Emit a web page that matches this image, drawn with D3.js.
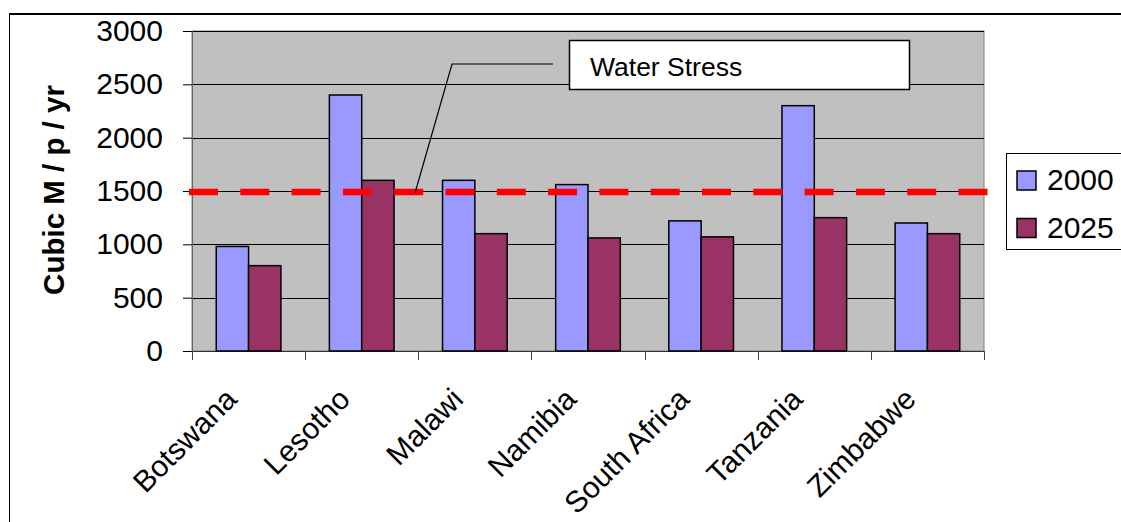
<!DOCTYPE html>
<html><head><meta charset="utf-8">
<script src="https://cdn.jsdelivr.net/npm/d3@7"></script>
<style>html,body{margin:0;padding:0;background:#fff;}svg{display:block;font-family:"Liberation Sans",Arial,sans-serif;}</style>
</head><body>
<script>
const categories = ["Botswana","Lesotho","Malawi","Namibia","South Africa","Tanzania","Zimbabwe"];
const seriesNames = ["2000","2025"];
const values2000 = [980, 2400, 1600, 1560, 1220, 2300, 1200];
const values2025 = [800, 1600, 1100, 1060, 1070, 1250, 1100];
const yTicks = [0,500,1000,1500,2000,2500,3000];
const stressValue = 1500;
const stressLabel = "Water Stress";
const yTitle = "Cubic M / p / yr";
const colors = ["#9999FF","#993366"];

const W = 1121, H = 522;
const svg = d3.select("body").append("svg").attr("width",W).attr("height",H);

// outer frame
svg.append("line").attr("x1",9).attr("x2",W).attr("y1",14).attr("y2",14).attr("stroke","#000").attr("stroke-width",2);
svg.append("line").attr("x1",9.5).attr("x2",9.5).attr("y1",13).attr("y2",H).attr("stroke","#000").attr("stroke-width",1);

const plot = {l:192, r:984, t:31, b:351};
const x0 = d3.scaleBand().domain(categories).range([plot.l, plot.r]).padding(0);
const x1 = d3.scaleBand().domain(seriesNames).range([0, x0.bandwidth()]).paddingInner(0).paddingOuter(0.75);
const y = d3.scaleLinear().domain([0,3000]).range([plot.b, plot.t]);

svg.append("rect").attr("x",plot.l).attr("y",plot.t).attr("width",plot.r-plot.l).attr("height",plot.b-plot.t)
  .attr("fill","#C0C0C0").attr("stroke","#808080").attr("stroke-width",1);

// gridlines
svg.append("g").selectAll("line").data(yTicks.filter(d=>d>0)).join("line")
  .attr("x1",plot.l).attr("x2",plot.r).attr("y1",d=>Math.round(y(d))+0.5).attr("y2",d=>Math.round(y(d))+0.5)
  .attr("stroke","#000").attr("stroke-width",1);

// y axis
const yAxis = d3.axisLeft(y).tickValues(yTicks).tickFormat(d3.format("d")).tickSize(9).tickPadding(20);
const gy = svg.append("g").attr("transform",`translate(${plot.l},0)`).call(yAxis);
gy.select(".domain").attr("stroke","#666");
gy.selectAll("text").attr("font-size",30).attr("fill","#000").attr("font-family","Liberation Sans, Arial, sans-serif");

// x axis
const xAxis = d3.axisBottom(x0).tickSize(0).tickFormat("");
const gx = svg.append("g").attr("transform",`translate(0,${plot.b})`).call(xAxis);
gx.select(".domain").attr("stroke","#333");
// boundary ticks
const bounds = categories.map(c=>x0(c)).concat([plot.r]);
svg.append("g").selectAll("line").data(bounds).join("line")
  .attr("x1",d=>Math.round(d)+0.5).attr("x2",d=>Math.round(d)+0.5).attr("y1",plot.b).attr("y2",plot.b+9)
  .attr("stroke","#444").attr("stroke-width",1);

// bars
const rows = categories.map((c,i)=>({c, v:[values2000[i], values2025[i]]}));
const groups = svg.append("g").selectAll("g").data(rows).join("g").attr("transform",d=>`translate(${x0(d.c)},0)`);
groups.selectAll("rect").data(d=>d.v.map((v,j)=>({s:seriesNames[j], v, j}))).join("rect")
  .attr("x",d=>x1(d.s)).attr("width",x1.bandwidth())
  .attr("y",d=>y(d.v)).attr("height",d=>y(0)-y(d.v))
  .attr("fill",d=>colors[d.j]).attr("stroke","#000").attr("stroke-width",1.5);

// category labels
svg.append("g").selectAll("text").data(categories).join("text")
  .attr("transform",d=>`translate(${x0(d)+x0.bandwidth()/2-10},${plot.b+50}) rotate(-45)`)
  .attr("text-anchor","end").attr("font-size",30).attr("fill","#000").text(d=>d);

// water stress line
svg.append("line").attr("x1",189).attr("x2",988).attr("y1",y(stressValue)+1).attr("y2",y(stressValue)+1)
  .attr("stroke","#FF0000").attr("stroke-width",6.5).attr("stroke-dasharray","29 22.3");

// callout
svg.append("polyline").attr("points",`553,64 452,64 415,${y(stressValue)+2}`)
  .attr("fill","none").attr("stroke","#000").attr("stroke-width",1.2);
svg.append("rect").attr("x",569.5).attr("y",40.5).attr("width",340).attr("height",49)
  .attr("fill","#fff").attr("stroke","#000").attr("stroke-width",1.5);
svg.append("text").attr("x",590).attr("y",76).attr("font-size",26.5).attr("fill","#000").text(stressLabel);

// y title
svg.append("text").attr("transform",`translate(64,190) rotate(-90)`).attr("text-anchor","middle")
  .attr("font-size",29.5).attr("font-weight","bold").attr("fill","#000").text(yTitle);

// legend
svg.append("rect").attr("x",1006.5).attr("y",153.5).attr("width",130).attr("height",96)
  .attr("fill","#fff").attr("stroke","#000").attr("stroke-width",1);
const lg = svg.append("g").selectAll("g").data(seriesNames).join("g")
  .attr("transform",(d,i)=>`translate(1017,${171+i*47.5})`);
lg.append("rect").attr("width",19).attr("height",19).attr("fill",(d,i)=>colors[i]).attr("stroke","#000").attr("stroke-width",1.5);
lg.append("text").attr("x",30).attr("y",19).attr("font-size",30).attr("fill","#000").text(d=>d);
</script>
</body></html>
